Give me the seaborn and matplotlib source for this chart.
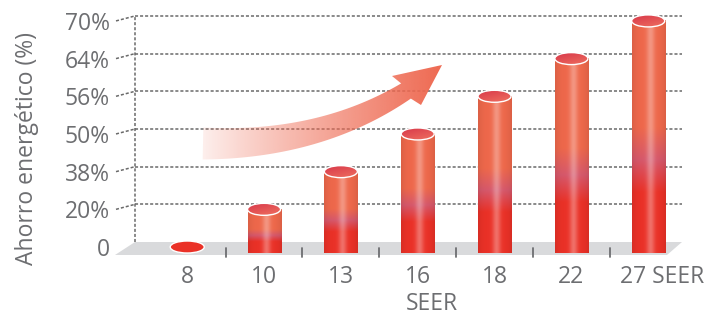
import numpy as np
import pandas as pd
import matplotlib
matplotlib.use("Agg")
import matplotlib.pyplot as plt
import matplotlib.transforms as mtransforms
import seaborn as sns
from matplotlib.patches import Ellipse, Polygon
from matplotlib.colors import to_rgb

# --- data ---
seer = ["8", "10", "13", "16", "18", "22", "27"]
savings = [0, 20, 38, 50, 56, 64, 70]
ytick_vals = [0, 20, 38, 50, 56, 64, 70]
ytick_labels = ["0", "20%", "38%", "50%", "56%", "64%", "70%"]
xtick_labels = ["8", "10", "13", "16", "18", "22", "27 SEER"]

GREY = "#6d6e71"
GRID = "#6a6a6a"
FLOOR = "#d9dadc"
CORAL = "#ee684b"
MAUVE = "#d6586b"
RED = "#ea3127"

W, H, DPI = 705, 316, 100

sns.set_theme(style="white")
plt.rcParams["font.family"] = ["Open Sans", "DejaVu Sans"]

fig = plt.figure(figsize=(W / DPI, H / DPI), dpi=DPI)
ax = fig.add_axes([115 / W, 61 / H, 567 / W, 245 / H])

# the y axis puts the tick values at even steps
idx = np.arange(len(ytick_vals), dtype=float)


def fwd(v):
    v = np.asarray(v, dtype=float)
    out = np.interp(v, ytick_vals, idx)
    lo = (idx[1] - idx[0]) / (ytick_vals[1] - ytick_vals[0])
    hi = (idx[-1] - idx[-2]) / (ytick_vals[-1] - ytick_vals[-2])
    out = np.where(v < ytick_vals[0], (v - ytick_vals[0]) * lo, out)
    out = np.where(v > ytick_vals[-1], idx[-1] + (v - ytick_vals[-1]) * hi, out)
    return out


def inv(i):
    i = np.asarray(i, dtype=float)
    out = np.interp(i, idx, ytick_vals)
    lo = (ytick_vals[1] - ytick_vals[0]) / (idx[1] - idx[0])
    hi = (ytick_vals[-1] - ytick_vals[-2]) / (idx[-1] - idx[-2])
    out = np.where(i < idx[0], ytick_vals[0] + (i - idx[0]) * lo, out)
    out = np.where(i > idx[-1], ytick_vals[-1] + (i - idx[-1]) * hi, out)
    return out


df = pd.DataFrame({"SEER": seer, "Ahorro": savings})
sns.barplot(data=df, x="SEER", y="Ahorro", order=seer, width=0.43,
            color=CORAL, ax=ax)

ax.set_yscale("function", functions=(fwd, inv))
ax.set_ylim(float(inv(-0.212)), float(inv(6.29)))
ax.set_xlim(-0.94, 6.44)
ax.set_yticks(ytick_vals, ytick_labels)
ax.set_xticks(range(len(seer)), xtick_labels)
ax.tick_params(axis="both", length=0, labelsize=16.5, labelcolor=GREY)
ax.tick_params(axis="y", pad=3.6)
ax.tick_params(axis="x", pad=7.5)
sns.despine(ax=ax, left=True, bottom=True)
ax.patch.set_visible(False)

last = ax.get_xticklabels()[-1]
last.set_transform(last.get_transform()
                   + mtransforms.ScaledTranslation(14 / DPI, 0, fig.dpi_scale_trans))

ax.set_xlabel("SEER", fontsize=16.5, color=GREY, va="center")
ax.xaxis.set_label_coords(0.559, -0.2)
ax.set_ylabel("Ahorro energético (%)", fontsize=16.5, color=GREY, va="center")
ax.yaxis.set_label_coords(-0.156, 0.433)

# overlay in pixel units for the pseudo-3D drawing
ov = fig.add_axes([0, 0, 1, 1], zorder=5)
ov.set_autoscale_on(False)
ov.set_xlim(0, W)
ov.set_ylim(0, H)
ov.axis("off")

bb = ax.get_window_extent()
left, right, bottom = bb.x0, bb.x1, bb.y0
depth_x, depth_y = 20, 13   # floor depth
wall_dy = 5                 # back wall lift

# floor
ov.add_patch(Polygon([(left, bottom), (left + depth_x, bottom + depth_y),
                      (right, bottom + depth_y), (right - 15, bottom)],
                     closed=True, fc=FLOOR, ec="none", zorder=1))

dash = dict(color=GRID, lw=1.1, ls=(0, (2.0, 1.3)), zorder=2)
tick_px = [ax.transData.transform((0, v))[1] for v in ytick_vals]
for ty in tick_px[1:]:
    ov.plot([left + 1, left + depth_x], [ty, ty + wall_dy], **dash)
    ov.plot([left + depth_x, right], [ty + wall_dy, ty + wall_dy], **dash)
ov.plot([left + depth_x, left + depth_x],
        [bottom + depth_y, tick_px[-1] + wall_dy], **dash)

# small separators on the floor
for i in range(len(seer) - 1):
    sx = ax.transData.transform((i + 0.5, 0))[0]
    ov.plot([sx, sx], [bottom - 2, bottom + 7], color=GREY, lw=1.3, zorder=2)


def body_image(nrows=200, ncols=60):
    t = np.linspace(0, 1, nrows)
    stops = [0, 0.46, 0.6, 0.74, 1]
    rgb = np.array([to_rgb(c) for c in [CORAL, CORAL, MAUVE, RED, RED]])
    col = np.stack([np.interp(t, stops, rgb[:, k]) for k in range(3)], axis=1)
    u = np.linspace(0, 1, ncols)
    hl = 0.3 * np.exp(-((u - 0.55) / 0.12) ** 2)
    shade = 1 - 0.08 * ((u - 0.5) * 2) ** 4
    img = col[:, None, :] * shade[None, :, None]
    img = img * (1 - hl[None, :, None]) + hl[None, :, None]
    return np.clip(img, 0, 1)


def top_image(n=40):
    a = np.array(to_rgb("#d8384a"))
    b = np.array(to_rgb("#ef7060"))
    yy, xx = np.mgrid[0:1:n * 1j, 0:1:n * 1j]
    f = np.clip(0.6 * yy + 0.4 * xx, 0, 1)[..., None]
    return a * (1 - f) + b * f


body = body_image()
cap = top_image()
for p in ax.patches:
    p.set_visible(False)
    x0, w, val = p.get_x(), p.get_width(), p.get_height()
    px0, py0 = ax.transData.transform((x0, 0))
    px1, ptop = ax.transData.transform((x0 + w, val))
    xc, bw = (px0 + px1) / 2, px1 - px0
    if val > 0:
        ov.imshow(body, extent=(px0, px1, py0 - 6, ptop), origin="upper",
                  aspect="auto", interpolation="bilinear", zorder=4)
        el = Ellipse((xc, ptop), bw, 12, transform=ov.transData)
        im = ov.imshow(cap, extent=(px0, px1, ptop - 6, ptop + 6), origin="upper",
                       aspect="auto", interpolation="bilinear", zorder=5)
        im.set_clip_path(el)
        ov.add_patch(Ellipse((xc, ptop), bw, 12, fc="none", ec="white",
                             lw=1.0, zorder=6))
    else:
        ov.add_patch(Ellipse((xc, ptop), bw + 1, 12, fc=RED, ec="white",
                             lw=1.0, zorder=6))

# growth arrow (decoration), built in reference pixel space (y down)
P0, P1, P2 = np.array([203, 143.5]), np.array([320, 146]), np.array([406, 91])
t = np.linspace(0, 1, 50)[:, None]
curve = (1 - t) ** 2 * P0 + 2 * (1 - t) * t * P1 + t ** 2 * P2
der = 2 * (1 - t) * (P1 - P0) + 2 * t * (P2 - P1)
tan = der / np.linalg.norm(der, axis=1, keepdims=True)
nrm = np.column_stack([-tan[:, 1], tan[:, 0]])
hw = (16 * (1 - t) + 9 * t)
top_edge = curve - nrm * hw
bot_edge = curve + nrm * hw
head = np.array([[392, 76], [442, 65], [421, 105]])
pts = np.vstack([top_edge, head, bot_edge[::-1]])
pts[:, 1] = H - pts[:, 1]
arrow = Polygon(pts, closed=True, transform=ov.transData)

xs = np.linspace(0, 1, 200)
alpha = np.clip(0.08 + 0.92 * xs ** 0.9, 0, 1)
grad = np.zeros((2, 200, 4))
grad[..., :3] = to_rgb("#ee6850")
grad[..., 3] = alpha
im = ov.imshow(grad, extent=(198, 445, H - 170, H - 60), origin="upper",
               aspect="auto", interpolation="bilinear", zorder=3)
im.set_clip_path(arrow)

fig.savefig("out.png", dpi=DPI)
